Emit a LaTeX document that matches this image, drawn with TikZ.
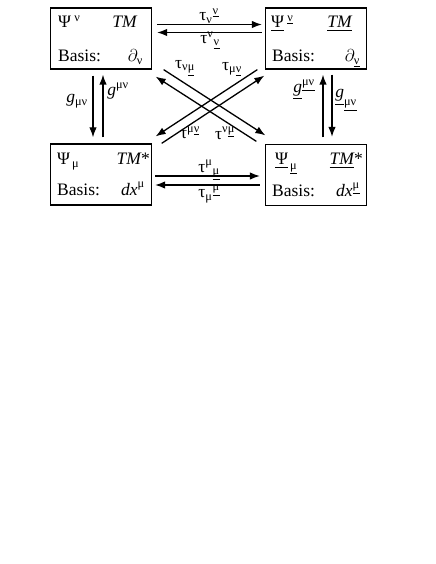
\documentclass[tikz,border=0pt]{standalone}
\usepackage{amsmath}
\usepackage{fontspec}
\setmainfont{Liberation Serif}
\usepackage{tikz}
\usetikzlibrary{arrows.meta,positioning}

% upright greek from the text font
\newcommand{\gk}[1]{\text{#1}}

\begin{document}
\begin{tikzpicture}[x=1bp, y=-1bp,
    space/.style={rectangle, draw, line width=1.3bp, minimum width=101bp, minimum height=61bp, inner sep=0pt},
    entry/.style={inner sep=0pt, font=\fontsize{17.5bp}{21bp}\selectfont},
    map/.style={-{Latex[length=10bp,width=7.5bp]}, line width=1.3bp}
]

\useasboundingbox (0,0) rectangle (436,564);

% Spaces
\node[space] (tm) at (101,38.5) {};
\node[space] (tmu) at (316,38.5) {};
\node[space] (cot) at (101,174.5) {};
\node[space] (cotu) at (316,175) {};

% Tangent space
\node[entry, anchor=base west] (tmpsi) at (58,28) {$\gk{Ψ}^{\;\gk{ν}}$};
\node[entry, anchor=base east] (tmname) at (137,28) {$\mathit{TM}$};
\node[entry, anchor=base west] (tmbasis) at (58,62) {Basis:};
\node[entry, anchor=base east] (tmvec) at (143,62) {$\partial_{\gk{ν}}$};

% Tangent space, underlined
\node[entry, anchor=base west] (tmupsi) at (271,28) {$\underline{\gk{Ψ}}^{\;\underline{\gk{ν}}}$};
\node[entry, anchor=base east] (tmuname) at (352,28) {$\underline{\mathit{TM}}$};
\node[entry, anchor=base west] (tmubasis) at (272,62) {Basis:};
\node[entry, anchor=base east] (tmuvec) at (360,62) {$\partial_{\underline{\gk{ν}}}$};

% Cotangent space
\node[entry, anchor=base west] (cotpsi) at (57,165) {$\gk{Ψ}_{\,\gk{μ}}$};
\node[entry, anchor=base east] (cotname) at (150,165) {$\mathit{TM}$*};
\node[entry, anchor=base west] (cotbasis) at (57,195) {Basis:};
\node[entry, anchor=base east] (cotvec) at (145,195) {$\mathit{dx}^{\gk{μ}}$};

% Cotangent space, underlined
\node[entry, anchor=base west] (cotupsi) at (275,165) {$\underline{\gk{Ψ}}_{\,\underline{\gk{μ}}}$};
\node[entry, anchor=base east] (cotuname) at (363,165) {$\underline{\mathit{TM}}$*};
\node[entry, anchor=base west] (cotubasis) at (272,196) {Basis:};
\node[entry, anchor=base east] (cotuvec) at (360,196) {$\mathit{dx}^{\underline{\gk{μ}}}$};

% Horizontal maps
\draw[map] ([xshift=5bp,yshift=14bp]tm.east) -- ([xshift=-3bp,yshift=14bp]tmu.west);
\draw[map] ([xshift=-3bp,yshift=6bp]tmu.west) -- ([xshift=5bp,yshift=6bp]tm.east);
\draw[map] ([xshift=3bp,yshift=-1.5bp]cot.east) -- ([xshift=-5bp,yshift=-1bp]cotu.west);
\draw[map] ([xshift=-5bp,yshift=-10bp]cotu.west) -- ([xshift=3bp,yshift=-10.5bp]cot.east);

\node[entry] (ttop) at (209,16) {$\gk{τ}_{\gk{ν}}{}^{\underline{\gk{ν}}}$};
\node[entry] (tbot) at (210,40) {$\gk{τ}^{\gk{ν}}{}_{\underline{\gk{ν}}}$};
\node[entry] (stop) at (209,170) {$\gk{τ}^{\gk{μ}}{}_{\underline{\gk{μ}}}$};
\node[entry] (sbot) at (209,194) {$\gk{τ}_{\gk{μ}}{}^{\underline{\gk{μ}}}$};

% Metric maps
\draw[map] ([xshift=-8bp,yshift=-6bp]tm.south) -- ([xshift=-8bp,yshift=6bp]cot.north);
\draw[map] ([xshift=2bp,yshift=6bp]cot.north) -- ([xshift=2bp,yshift=-5bp]tm.south);
\draw[map] ([xshift=7bp,yshift=6.5bp]cotu.north) -- ([xshift=7bp,yshift=-5bp]tmu.south);
\draw[map] ([xshift=16bp,yshift=-5bp]tmu.south) -- ([xshift=16bp,yshift=7bp]cotu.north);

\node[entry] (glo) at (77,101) {$\mathit{g}_{\gk{μν}}$};
\node[entry] (ghi) at (118,91) {$\mathit{g}^{\gk{μν}}$};
\node[entry] (guhi) at (304,90) {$\underline{\mathit{g}}^{\underline{\gk{μν}}}$};
\node[entry] (gulo) at (346,100) {$\underline{\mathit{g}}_{\underline{\gk{μν}}}$};

% Cross maps
\draw[map] ([xshift=11.5bp]tm.south east) -- ([xshift=0.5bp,yshift=8.5bp]cotu.north west);
\draw[map] ([xshift=-8.5bp,yshift=2.5bp]cotu.north west) -- ([xshift=3.5bp,yshift=-7bp]tm.south east);
\draw[map] ([xshift=9.5bp]cot.north east) -- ([xshift=-0.5bp,yshift=-6bp]tmu.south west);
\draw[map] ([xshift=-7.5bp]tmu.south west) -- ([xshift=3.5bp,yshift=7bp]cot.north east);

\node[entry] (xnm) at (185,68) {$\gk{τ}_{\gk{ν}\underline{\gk{μ}}}$};
\node[entry] (xmn) at (232,69) {$\gk{τ}_{\gk{μ}\underline{\gk{ν}}}$};
\node[entry] (xumn) at (190,133) {$\gk{τ}^{\gk{μ}\underline{\gk{ν}}}$};
\node[entry] (xunm) at (225,133) {$\gk{τ}^{\gk{ν}\underline{\gk{μ}}}$};

\end{tikzpicture}
\end{document}
